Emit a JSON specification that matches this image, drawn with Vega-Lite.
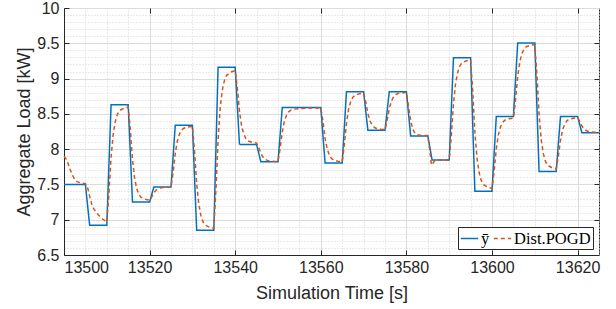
{
  "$schema": "https://vega.github.io/schema/vega-lite/v6.json",
  "width": 535,
  "height": 247,
  "autosize": {"type": "none"},
  "padding": {"left": 64, "top": 8, "right": 17, "bottom": 54},
  "config": {
    "view": {"stroke": "#262626", "strokeWidth": 1},
    "font": "Liberation Sans"
  },
  "datasets": {
    "lines": [
      {"s": "ȳ", "t": 13500, "v": 7.5}, {"s": "ȳ", "t": 13505, "v": 7.5},
      {"s": "ȳ", "t": 13506, "v": 6.92}, {"s": "ȳ", "t": 13510, "v": 6.92},
      {"s": "ȳ", "t": 13511, "v": 8.63}, {"s": "ȳ", "t": 13515, "v": 8.63},
      {"s": "ȳ", "t": 13516, "v": 7.25}, {"s": "ȳ", "t": 13520, "v": 7.25},
      {"s": "ȳ", "t": 13521, "v": 7.465}, {"s": "ȳ", "t": 13525, "v": 7.465},
      {"s": "ȳ", "t": 13526, "v": 8.34}, {"s": "ȳ", "t": 13530, "v": 8.34},
      {"s": "ȳ", "t": 13531, "v": 6.85}, {"s": "ȳ", "t": 13535, "v": 6.85},
      {"s": "ȳ", "t": 13536, "v": 9.16}, {"s": "ȳ", "t": 13540, "v": 9.16},
      {"s": "ȳ", "t": 13541, "v": 8.065}, {"s": "ȳ", "t": 13545, "v": 8.065},
      {"s": "ȳ", "t": 13546, "v": 7.82}, {"s": "ȳ", "t": 13550, "v": 7.82},
      {"s": "ȳ", "t": 13551, "v": 8.59}, {"s": "ȳ", "t": 13560, "v": 8.59},
      {"s": "ȳ", "t": 13561, "v": 7.805}, {"s": "ȳ", "t": 13565, "v": 7.805},
      {"s": "ȳ", "t": 13566, "v": 8.815}, {"s": "ȳ", "t": 13570, "v": 8.815},
      {"s": "ȳ", "t": 13571, "v": 8.267}, {"s": "ȳ", "t": 13575, "v": 8.267},
      {"s": "ȳ", "t": 13576, "v": 8.815}, {"s": "ȳ", "t": 13580, "v": 8.815},
      {"s": "ȳ", "t": 13581, "v": 8.187}, {"s": "ȳ", "t": 13585, "v": 8.187},
      {"s": "ȳ", "t": 13586, "v": 7.847}, {"s": "ȳ", "t": 13590, "v": 7.847},
      {"s": "ȳ", "t": 13591, "v": 9.296}, {"s": "ȳ", "t": 13595, "v": 9.296},
      {"s": "ȳ", "t": 13596, "v": 7.404}, {"s": "ȳ", "t": 13600, "v": 7.404},
      {"s": "ȳ", "t": 13601, "v": 8.461}, {"s": "ȳ", "t": 13605, "v": 8.461},
      {"s": "ȳ", "t": 13606, "v": 9.504}, {"s": "ȳ", "t": 13610, "v": 9.504},
      {"s": "ȳ", "t": 13611, "v": 7.682}, {"s": "ȳ", "t": 13615, "v": 7.682},
      {"s": "ȳ", "t": 13616, "v": 8.461}, {"s": "ȳ", "t": 13620, "v": 8.461},
      {"s": "ȳ", "t": 13621, "v": 8.234}, {"s": "ȳ", "t": 13625, "v": 8.234},

      {"s": "Dist.POGD", "t": 13500, "v": 7.9}, {"s": "Dist.POGD", "t": 13500.5, "v": 7.86},
      {"s": "Dist.POGD", "t": 13501, "v": 7.79}, {"s": "Dist.POGD", "t": 13501.5, "v": 7.70},
      {"s": "Dist.POGD", "t": 13502, "v": 7.63}, {"s": "Dist.POGD", "t": 13502.5, "v": 7.57},
      {"s": "Dist.POGD", "t": 13503, "v": 7.54}, {"s": "Dist.POGD", "t": 13504, "v": 7.52},
      {"s": "Dist.POGD", "t": 13505, "v": 7.51},
      {"s": "Dist.POGD", "t": 13505.5, "v": 7.46}, {"s": "Dist.POGD", "t": 13506, "v": 7.33},
      {"s": "Dist.POGD", "t": 13506.5, "v": 7.22}, {"s": "Dist.POGD", "t": 13507, "v": 7.15},
      {"s": "Dist.POGD", "t": 13508, "v": 7.07}, {"s": "Dist.POGD", "t": 13509, "v": 7.01},
      {"s": "Dist.POGD", "t": 13510, "v": 6.97},
      {"s": "Dist.POGD", "t": 13510.5, "v": 7.368}, {"s": "Dist.POGD", "t": 13511, "v": 7.883},
      {"s": "Dist.POGD", "t": 13511.5, "v": 8.215}, {"s": "Dist.POGD", "t": 13512, "v": 8.398},
      {"s": "Dist.POGD", "t": 13512.5, "v": 8.497}, {"s": "Dist.POGD", "t": 13513, "v": 8.547},
      {"s": "Dist.POGD", "t": 13514, "v": 8.58}, {"s": "Dist.POGD", "t": 13515, "v": 8.597},
      {"s": "Dist.POGD", "t": 13515.5, "v": 8.274}, {"s": "Dist.POGD", "t": 13516, "v": 7.856},
      {"s": "Dist.POGD", "t": 13516.5, "v": 7.587}, {"s": "Dist.POGD", "t": 13517, "v": 7.439},
      {"s": "Dist.POGD", "t": 13517.5, "v": 7.358}, {"s": "Dist.POGD", "t": 13518, "v": 7.317},
      {"s": "Dist.POGD", "t": 13519, "v": 7.29}, {"s": "Dist.POGD", "t": 13520, "v": 7.277},
      {"s": "Dist.POGD", "t": 13520.5, "v": 7.322}, {"s": "Dist.POGD", "t": 13521, "v": 7.38},
      {"s": "Dist.POGD", "t": 13521.5, "v": 7.418}, {"s": "Dist.POGD", "t": 13522, "v": 7.439},
      {"s": "Dist.POGD", "t": 13522.5, "v": 7.45}, {"s": "Dist.POGD", "t": 13523, "v": 7.456},
      {"s": "Dist.POGD", "t": 13524, "v": 7.459}, {"s": "Dist.POGD", "t": 13525, "v": 7.461},
      {"s": "Dist.POGD", "t": 13525.5, "v": 7.672}, {"s": "Dist.POGD", "t": 13526, "v": 7.944},
      {"s": "Dist.POGD", "t": 13526.5, "v": 8.12}, {"s": "Dist.POGD", "t": 13527, "v": 8.217},
      {"s": "Dist.POGD", "t": 13527.5, "v": 8.27}, {"s": "Dist.POGD", "t": 13528, "v": 8.296},
      {"s": "Dist.POGD", "t": 13529, "v": 8.314}, {"s": "Dist.POGD", "t": 13530, "v": 8.322},
      {"s": "Dist.POGD", "t": 13530.5, "v": 7.969}, {"s": "Dist.POGD", "t": 13531, "v": 7.512},
      {"s": "Dist.POGD", "t": 13531.5, "v": 7.218}, {"s": "Dist.POGD", "t": 13532, "v": 7.056},
      {"s": "Dist.POGD", "t": 13532.5, "v": 6.968}, {"s": "Dist.POGD", "t": 13533, "v": 6.924},
      {"s": "Dist.POGD", "t": 13534, "v": 6.894}, {"s": "Dist.POGD", "t": 13535, "v": 6.879},
      {"s": "Dist.POGD", "t": 13535.5, "v": 7.427}, {"s": "Dist.POGD", "t": 13536, "v": 8.134},
      {"s": "Dist.POGD", "t": 13536.5, "v": 8.59}, {"s": "Dist.POGD", "t": 13537, "v": 8.841},
      {"s": "Dist.POGD", "t": 13537.5, "v": 8.978}, {"s": "Dist.POGD", "t": 13538, "v": 9.046},
      {"s": "Dist.POGD", "t": 13539, "v": 9.092}, {"s": "Dist.POGD", "t": 13540, "v": 9.114},
      {"s": "Dist.POGD", "t": 13540.5, "v": 8.862}, {"s": "Dist.POGD", "t": 13541, "v": 8.537},
      {"s": "Dist.POGD", "t": 13541.5, "v": 8.327}, {"s": "Dist.POGD", "t": 13542, "v": 8.212},
      {"s": "Dist.POGD", "t": 13542.5, "v": 8.149}, {"s": "Dist.POGD", "t": 13543, "v": 8.117},
      {"s": "Dist.POGD", "t": 13544, "v": 8.096}, {"s": "Dist.POGD", "t": 13545, "v": 8.086},
      {"s": "Dist.POGD", "t": 13545.5, "v": 8.022}, {"s": "Dist.POGD", "t": 13546, "v": 7.94},
      {"s": "Dist.POGD", "t": 13546.5, "v": 7.886}, {"s": "Dist.POGD", "t": 13547, "v": 7.857},
      {"s": "Dist.POGD", "t": 13547.5, "v": 7.841}, {"s": "Dist.POGD", "t": 13548, "v": 7.833},
      {"s": "Dist.POGD", "t": 13549, "v": 7.828}, {"s": "Dist.POGD", "t": 13550, "v": 7.825},
      {"s": "Dist.POGD", "t": 13550.5, "v": 8.009}, {"s": "Dist.POGD", "t": 13551, "v": 8.246},
      {"s": "Dist.POGD", "t": 13551.5, "v": 8.399}, {"s": "Dist.POGD", "t": 13552, "v": 8.483},
      {"s": "Dist.POGD", "t": 13552.5, "v": 8.529}, {"s": "Dist.POGD", "t": 13553, "v": 8.552},
      {"s": "Dist.POGD", "t": 13554, "v": 8.567}, {"s": "Dist.POGD", "t": 13555, "v": 8.575},
      {"s": "Dist.POGD", "t": 13557, "v": 8.582}, {"s": "Dist.POGD", "t": 13560, "v": 8.585},
      {"s": "Dist.POGD", "t": 13560.5, "v": 8.398}, {"s": "Dist.POGD", "t": 13561, "v": 8.156},
      {"s": "Dist.POGD", "t": 13561.5, "v": 8.0}, {"s": "Dist.POGD", "t": 13562, "v": 7.914},
      {"s": "Dist.POGD", "t": 13562.5, "v": 7.867}, {"s": "Dist.POGD", "t": 13563, "v": 7.844},
      {"s": "Dist.POGD", "t": 13564, "v": 7.828}, {"s": "Dist.POGD", "t": 13565, "v": 7.821},
      {"s": "Dist.POGD", "t": 13565.5, "v": 8.06}, {"s": "Dist.POGD", "t": 13566, "v": 8.368},
      {"s": "Dist.POGD", "t": 13566.5, "v": 8.567}, {"s": "Dist.POGD", "t": 13567, "v": 8.676},
      {"s": "Dist.POGD", "t": 13567.5, "v": 8.735}, {"s": "Dist.POGD", "t": 13568, "v": 8.765},
      {"s": "Dist.POGD", "t": 13569, "v": 8.785}, {"s": "Dist.POGD", "t": 13570, "v": 8.795},
      {"s": "Dist.POGD", "t": 13570.5, "v": 8.668}, {"s": "Dist.POGD", "t": 13571, "v": 8.505},
      {"s": "Dist.POGD", "t": 13571.5, "v": 8.399}, {"s": "Dist.POGD", "t": 13572, "v": 8.341},
      {"s": "Dist.POGD", "t": 13572.5, "v": 8.309}, {"s": "Dist.POGD", "t": 13573, "v": 8.293},
      {"s": "Dist.POGD", "t": 13574, "v": 8.283}, {"s": "Dist.POGD", "t": 13575, "v": 8.278},
      {"s": "Dist.POGD", "t": 13575.5, "v": 8.407}, {"s": "Dist.POGD", "t": 13576, "v": 8.573},
      {"s": "Dist.POGD", "t": 13576.5, "v": 8.681}, {"s": "Dist.POGD", "t": 13577, "v": 8.74},
      {"s": "Dist.POGD", "t": 13577.5, "v": 8.772}, {"s": "Dist.POGD", "t": 13578, "v": 8.788},
      {"s": "Dist.POGD", "t": 13579, "v": 8.799}, {"s": "Dist.POGD", "t": 13580, "v": 8.804},
      {"s": "Dist.POGD", "t": 13580.5, "v": 8.6}, {"s": "Dist.POGD", "t": 13581, "v": 8.4},
      {"s": "Dist.POGD", "t": 13581.5, "v": 8.28}, {"s": "Dist.POGD", "t": 13582, "v": 8.225},
      {"s": "Dist.POGD", "t": 13582.5, "v": 8.205}, {"s": "Dist.POGD", "t": 13583, "v": 8.198},
      {"s": "Dist.POGD", "t": 13584, "v": 8.194}, {"s": "Dist.POGD", "t": 13585, "v": 8.192},
      {"s": "Dist.POGD", "t": 13585.5, "v": 7.97}, {"s": "Dist.POGD", "t": 13585.85, "v": 7.775},
      {"s": "Dist.POGD", "t": 13586.2, "v": 7.8}, {"s": "Dist.POGD", "t": 13586.6, "v": 7.835},
      {"s": "Dist.POGD", "t": 13587.5, "v": 7.845}, {"s": "Dist.POGD", "t": 13590, "v": 7.847},
      {"s": "Dist.POGD", "t": 13590.5, "v": 8.195}, {"s": "Dist.POGD", "t": 13591, "v": 8.644},
      {"s": "Dist.POGD", "t": 13591.5, "v": 8.934}, {"s": "Dist.POGD", "t": 13592, "v": 9.093},
      {"s": "Dist.POGD", "t": 13592.5, "v": 9.18}, {"s": "Dist.POGD", "t": 13593, "v": 9.224},
      {"s": "Dist.POGD", "t": 13594, "v": 9.253}, {"s": "Dist.POGD", "t": 13595, "v": 9.267},
      {"s": "Dist.POGD", "t": 13595.5, "v": 8.82}, {"s": "Dist.POGD", "t": 13596, "v": 8.242},
      {"s": "Dist.POGD", "t": 13596.5, "v": 7.87}, {"s": "Dist.POGD", "t": 13597, "v": 7.665},
      {"s": "Dist.POGD", "t": 13597.5, "v": 7.553}, {"s": "Dist.POGD", "t": 13598, "v": 7.497},
      {"s": "Dist.POGD", "t": 13599, "v": 7.46}, {"s": "Dist.POGD", "t": 13600, "v": 7.441},
      {"s": "Dist.POGD", "t": 13600.5, "v": 7.686}, {"s": "Dist.POGD", "t": 13601, "v": 8.002},
      {"s": "Dist.POGD", "t": 13601.5, "v": 8.206}, {"s": "Dist.POGD", "t": 13602, "v": 8.318},
      {"s": "Dist.POGD", "t": 13602.5, "v": 8.379}, {"s": "Dist.POGD", "t": 13603, "v": 8.41},
      {"s": "Dist.POGD", "t": 13604, "v": 8.43}, {"s": "Dist.POGD", "t": 13605, "v": 8.441},
      {"s": "Dist.POGD", "t": 13605.5, "v": 8.696}, {"s": "Dist.POGD", "t": 13606, "v": 9.026},
      {"s": "Dist.POGD", "t": 13606.5, "v": 9.238}, {"s": "Dist.POGD", "t": 13607, "v": 9.355},
      {"s": "Dist.POGD", "t": 13607.5, "v": 9.419}, {"s": "Dist.POGD", "t": 13608, "v": 9.451},
      {"s": "Dist.POGD", "t": 13609, "v": 9.472}, {"s": "Dist.POGD", "t": 13610, "v": 9.483},
      {"s": "Dist.POGD", "t": 13610.5, "v": 9.051}, {"s": "Dist.POGD", "t": 13611, "v": 8.492},
      {"s": "Dist.POGD", "t": 13611.5, "v": 8.132}, {"s": "Dist.POGD", "t": 13612, "v": 7.934},
      {"s": "Dist.POGD", "t": 13612.5, "v": 7.826}, {"s": "Dist.POGD", "t": 13613, "v": 7.772},
      {"s": "Dist.POGD", "t": 13614, "v": 7.737}, {"s": "Dist.POGD", "t": 13615, "v": 7.719},
      {"s": "Dist.POGD", "t": 13615.5, "v": 7.897}, {"s": "Dist.POGD", "t": 13616, "v": 8.127},
      {"s": "Dist.POGD", "t": 13616.5, "v": 8.276}, {"s": "Dist.POGD", "t": 13617, "v": 8.357},
      {"s": "Dist.POGD", "t": 13617.5, "v": 8.402}, {"s": "Dist.POGD", "t": 13618, "v": 8.424},
      {"s": "Dist.POGD", "t": 13619, "v": 8.439}, {"s": "Dist.POGD", "t": 13620, "v": 8.446},
      {"s": "Dist.POGD", "t": 13620.5, "v": 8.395}, {"s": "Dist.POGD", "t": 13621, "v": 8.329},
      {"s": "Dist.POGD", "t": 13621.5, "v": 8.287}, {"s": "Dist.POGD", "t": 13622, "v": 8.264},
      {"s": "Dist.POGD", "t": 13622.5, "v": 8.251}, {"s": "Dist.POGD", "t": 13623, "v": 8.245},
      {"s": "Dist.POGD", "t": 13624, "v": 8.24}, {"s": "Dist.POGD", "t": 13625, "v": 8.238}
    ]
  },
  "data": {"name": "lines"},
  "layer": [
    {
      "mark": {"type": "line", "opacity": 0},
      "encoding": {
        "x": {
          "field": "t", "type": "quantitative",
          "scale": {"domain": [13500, 13625], "nice": false, "zero": false},
          "axis": {
            "orient": "bottom", "values": [13505, 13510, 13515, 13525, 13530, 13535, 13545, 13550, 13555, 13565, 13570, 13575, 13585, 13590, 13595, 13605, 13610, 13615, 13625],
            "labels": false, "ticks": false, "domain": false, "title": null,
            "grid": true, "gridColor": "#d4d4d4", "gridDash": [1, 2], "gridWidth": 1
          }
        },
        "y": {
          "field": "v", "type": "quantitative",
          "scale": {"domain": [6.5, 10], "nice": false, "zero": false},
          "axis": {
            "orient": "left",
            "values": [6.6, 6.7, 6.8, 6.9, 7.1, 7.2, 7.3, 7.4, 7.6, 7.7, 7.8, 7.9, 8.1, 8.2, 8.3, 8.4, 8.6, 8.7, 8.8, 8.9, 9.1, 9.2, 9.3, 9.4, 9.6, 9.7, 9.8, 9.9],
            "labels": false, "ticks": false, "domain": false, "title": null,
            "grid": true, "gridColor": "#d4d4d4", "gridDash": [1, 2], "gridWidth": 1
          }
        },
        "detail": {"field": "s"}
      }
    },
    {
      "mark": {"type": "line", "opacity": 0},
      "encoding": {
        "x": {
          "field": "t", "type": "quantitative",
          "axis": {
            "orient": "top", "values": [13520, 13540, 13560, 13580, 13600, 13620],
            "labels": false, "domain": false, "grid": false, "title": null,
            "ticks": true, "tickSize": -5, "tickColor": "#262626"
          }
        },
        "y": {
          "field": "v", "type": "quantitative",
          "axis": {
            "orient": "right", "values": [7, 7.5, 8, 8.5, 9, 9.5],
            "labels": false, "domain": false, "grid": false, "title": null,
            "ticks": true, "tickSize": -5, "tickColor": "#262626"
          }
        },
        "detail": {"field": "s"}
      }
    },
    {
      "mark": {"type": "line", "strokeWidth": 1.5},
      "encoding": {
        "x": {
          "field": "t", "type": "quantitative",
          "axis": {
            "orient": "bottom",
            "values": [13500, 13520, 13540, 13560, 13580, 13600, 13620],
            "format": "d",
            "labelFontSize": 16, "labelColor": "#262626", "labelPadding": 9,
            "tickSize": -5, "tickColor": "#262626",
            "domainColor": "#262626",
            "grid": true, "gridColor": "#dcdcdc", "gridWidth": 1,
            "title": "Simulation Time [s]", "titleFontSize": 18, "titleFontWeight": "normal",
            "titleColor": "#262626", "titleX": 267.5, "titleY": 43, "titleBaseline": "alphabetic", "titleAlign": "center"
          }
        },
        "y": {
          "field": "v", "type": "quantitative",
          "axis": {
            "orient": "left",
            "values": [6.5, 7, 7.5, 8, 8.5, 9, 9.5, 10],
            "labelExpr": "'' + datum.value",
            "labelFontSize": 16, "labelColor": "#262626", "labelPadding": 10,
            "tickSize": -5, "tickColor": "#262626",
            "domainColor": "#262626",
            "grid": true, "gridColor": "#dcdcdc", "gridWidth": 1,
            "title": "Aggregate Load [kW]", "titleFontSize": 18, "titleFontWeight": "normal",
            "titleColor": "#262626", "titleAngle": -90, "titleX": -35, "titleY": 123.5,
            "titleBaseline": "alphabetic", "titleAlign": "center"
          }
        },
        "color": {
          "field": "s", "type": "nominal",
          "scale": {"domain": ["ȳ", "Dist.POGD"], "range": ["#0072BD", "#D95319"]},
          "legend": {
            "title": null, "orient": "bottom-right", "direction": "horizontal", "offset": 6,
            "fillColor": "white", "strokeColor": "#262626", "cornerRadius": 0,
            "padding": 2, "columnPadding": 0, "labelOffset": 2,
            "labelFont": "Liberation Serif", "labelFontSize": 16.5, "labelColor": "#000000",
            "symbolType": "stroke", "symbolSize": 300, "symbolStrokeWidth": 1.5
          }
        },
        "strokeDash": {
          "field": "s", "type": "nominal",
          "scale": {"domain": ["ȳ", "Dist.POGD"], "range": [[1, 0], [4, 3]]},
          "legend": {
            "title": null, "orient": "bottom-right", "direction": "horizontal", "offset": 6,
            "fillColor": "white", "strokeColor": "#262626", "cornerRadius": 0,
            "padding": 2, "columnPadding": 0, "labelOffset": 2,
            "labelFont": "Liberation Serif", "labelFontSize": 16.5, "labelColor": "#000000",
            "symbolType": "stroke", "symbolSize": 300, "symbolStrokeWidth": 1.5
          }
        }
      }
    }
  ],
  "resolve": {"axis": {"x": "independent", "y": "independent"}}
}
